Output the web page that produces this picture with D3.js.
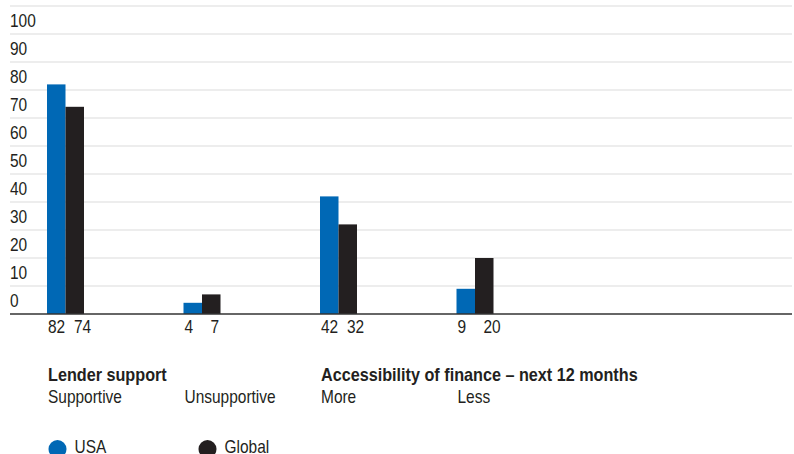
<!DOCTYPE html>
<html><head><meta charset="utf-8">
<script src="https://cdn.jsdelivr.net/npm/d3@7"></script>
<style>
html,body{margin:0;padding:0;background:#fff;overflow:hidden}
text{font-family:"Liberation Sans",Arial,sans-serif;fill:#231f20}
</style></head>
<body>
<svg id="c" width="794" height="454"></svg>
<script>
const categories = ["Supportive", "Unsupportive", "More", "Less"];
const seriesNames = ["USA", "Global"];
const usaValues = [82, 4, 42, 9];
const globalValues = [74, 7, 32, 20];
const yTicks = [0, 10, 20, 30, 40, 50, 60, 70, 80, 90, 100, 110];
const yLabels = [0, 10, 20, 30, 40, 50, 60, 70, 80, 90, 100];
const groupTitles = [
  {title: "Lender support", first: "Supportive"},
  {title: "Accessibility of finance \u2013 next 12 months", first: "More"}
];
const colors = {USA: "#0068b5", Global: "#231f20"};

const svg = d3.select("#c");
const y = d3.scaleLinear().domain([0, 110]).range([314, 6]);
const x = d3.scaleBand().domain(categories).range([47, 493.5]).paddingInner(1 - 37/136.5).paddingOuter(0);
const xs = d3.scaleBand().domain(seriesNames).range([0, x.bandwidth()]);
// value labels sit in columns: USA at the group start, Global a column further right
const labelCol = d3.scalePoint().domain(seriesNames).range([1, 27]);

// condensed text helper
function place(sel, fx, fy, sx) {
  sel.attr("transform", (d, i) => `translate(${fx(d, i)},${fy(d, i)}) scale(${sx},1)`)
     .attr("font-size", 18);
  return sel;
}

// title fragment (cut off at top)
place(svg.append("text").datum(0), () => 10, () => -4, 0.86).text("Percentage");

// gridlines
svg.append("g").selectAll("line").data(yTicks.filter(d => d > 0)).join("line")
  .attr("x1", 10).attr("x2", 792)
  .attr("y1", d => y(d)).attr("y2", d => y(d))
  .attr("stroke", "#dcdcdc").attr("stroke-width", 1.2);

// y labels
place(svg.append("g").selectAll("text").data(yLabels).join("text"),
  () => 10, d => y(d) - 7, 0.86).text(d => d);

// bars
const data = categories.map((c, i) => ({cat: c, vals: [
  {s: "USA", v: usaValues[i]}, {s: "Global", v: globalValues[i]}]}));
const g = svg.append("g").selectAll("g").data(data).join("g")
  .attr("transform", d => `translate(${x(d.cat)},0)`);
g.selectAll("rect").data(d => d.vals).join("rect")
  .attr("x", d => xs(d.s)).attr("width", xs.bandwidth())
  .attr("y", d => y(d.v)).attr("height", d => y(0) - y(d.v))
  .attr("fill", d => colors[d.s]);
place(g.selectAll("text").data(d => d.vals).join("text"),
  d => labelCol(d.s), () => 333, 0.86).text(d => d.v);

// baseline
svg.append("line").attr("x1", 10).attr("x2", 792).attr("y1", y(0)).attr("y2", y(0))
  .attr("stroke", "#333").attr("stroke-width", 1.5);

// category labels
place(svg.append("g").selectAll("text").data(groupTitles).join("text"),
  d => x(d.first) + 1, () => 381, 0.9)
  .attr("font-weight", "bold").text(d => d.title);
place(svg.append("g").selectAll("text").data(categories).join("text"),
  d => x(d) + 1, () => 403, 0.86).text(d => d);

// legend
const lx = [57.5, 207.5];
const lg = svg.append("g").selectAll("g").data(seriesNames).join("g")
  .attr("transform", (d, i) => `translate(${lx[i]},449)`);
lg.append("circle").attr("r", 9).attr("fill", d => colors[d]);
place(lg.append("text"), () => 17, () => 4, 0.86).text(d => d);
</script>
</body></html>
